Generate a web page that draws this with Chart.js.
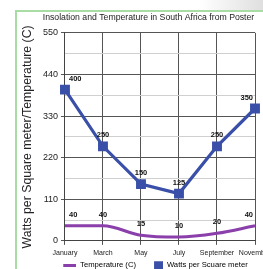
<!DOCTYPE html>
<html>
<head>
<meta charset="utf-8">
<script src="https://cdn.jsdelivr.net/npm/chart.js@4.4.1/dist/chart.umd.min.js"></script>
<style>
  html, body { margin: 0; padding: 0; background: #fff; }
  body { width: 263px; height: 269px; overflow: hidden; position: relative; }
  .frame { position: absolute; left: 15px; top: 10px; width: 400px; height: 400px;
           border-left: 2px solid #a9dba4; border-top: 2px solid #a9dba4; }
  .shade { position: absolute; left: 200px; top: 0; width: 63px; height: 10px;
           background: linear-gradient(to right, rgba(255,255,255,0), rgba(215,215,215,0.8)); }
  .wrap { position: absolute; left: 17px; top: 8px; width: 263px; height: 271px; }
</style>
</head>
<body>
<div class="shade"></div>
<div class="frame"></div>
<div class="wrap"><canvas id="insolation"></canvas></div>
<script>
// data
var months = ["January", "March", "May", "July", "September", "November"];
var tempValues = [40, 40, 15, 10, 20, 40];
var wattValues = [400, 250, 150, 125, 250, 350];
var tempColor = "#8b3fab";
var wattColor = "#3a50a8";

// legend icons, drawn on the right side of a 27px wide box
function legendIcon(kind, color) {
  var c = document.createElement("canvas");
  var g;
  if (kind == "line") {
    c.width = 27; c.height = 3;
    g = c.getContext("2d");
    g.fillStyle = color;
    g.fillRect(14, 0, 13, 3);
  } else {
    c.width = 27; c.height = 9;
    g = c.getContext("2d");
    g.fillStyle = color;
    g.fillRect(18, 0, 9, 9);
  }
  return c;
}
var tempIcon = legendIcon("line", tempColor);
var wattIcon = legendIcon("box", wattColor);

// value labels above each point
var valueLabels = {
  id: "valueLabels",
  afterDatasetsDraw: function(chart) {
    var ctx = chart.ctx;
    var area = chart.chartArea;
    ctx.save();
    ctx.font = "bold 7.5px 'Liberation Sans', Arial, sans-serif";
    ctx.fillStyle = "#111";
    ctx.textBaseline = "middle";
    ctx.textAlign = "left";
    chart.data.datasets.forEach(function(ds, i) {
      var meta = chart.getDatasetMeta(i);
      meta.data.forEach(function(pt, j) {
        var txt = String(ds.data[j]);
        var w = ctx.measureText(txt).width;
        var x = pt.x - w / 2;
        if (x < area.left + 4) x = area.left + 4;
        if (x + w > area.right - 2) x = area.right - 2 - w;
        ctx.fillText(txt, x, pt.y - 11);
      });
    });
    ctx.restore();
  }
};

new Chart("insolation", {
  type: "line",
  data: {
    labels: months,
    datasets: [{
      label: "Temperature (C)",
      data: tempValues,
      borderColor: tempColor,
      backgroundColor: tempColor,
      borderWidth: 3,
      pointRadius: 0,
      pointHoverRadius: 0,
      cubicInterpolationMode: "monotone"
    }, {
      label: "Watts per Scuare meter",
      data: wattValues,
      borderColor: wattColor,
      backgroundColor: wattColor,
      borderWidth: 3.2,
      pointStyle: "rect",
      pointRadius: 7,
      pointBorderWidth: 0,
      tension: 0
    }]
  },
  options: {
    responsive: true,
    maintainAspectRatio: false,
    animation: false,
    devicePixelRatio: 1,
    layout: { padding: 0 },
    plugins: {
      tooltip: { enabled: false },
      title: {
        display: true,
        text: "Insolation and Temperature in South Africa from Poster",
        color: "#222",
        font: { family: "'Liberation Sans', Arial, sans-serif", size: 8.7, weight: "normal" },
        padding: { top: 4.8, bottom: 9.6 }
      },
      legend: {
        position: "bottom",
        labels: {
          usePointStyle: true,
          pointStyleWidth: 27,
          padding: 0,
          color: "#222",
          font: { family: "'Liberation Sans', Arial, sans-serif", size: 7.7 },
          generateLabels: function(chart) {
            return chart.data.datasets.map(function(ds, i) {
              return {
                text: ds.label,
                pointStyle: i == 0 ? tempIcon : wattIcon,
                fillStyle: ds.borderColor,
                strokeStyle: ds.borderColor,
                lineWidth: 0,
                datasetIndex: i
              };
            });
          }
        }
      }
    },
    scales: {
      x: {
        offset: false,
        grid: { color: "#555", lineWidth: 1, tickLength: 4, tickColor: "#555" },
        border: { color: "#444", width: 1 },
        ticks: {
          color: "#222",
          padding: 4,
          maxRotation: 0,
          autoSkip: false,
          font: { family: "'Liberation Sans', Arial, sans-serif", size: 7 }
        },
        afterFit: function(scale) {
          scale.paddingRight = 25;
        }
      },
      y: {
        min: 0,
        max: 550,
        grid: {
          tickLength: 4,
          color: function(c) { return c.tick && c.tick.value % 110 === 0 ? "#555" : "#d0d0d0"; },
          tickColor: function(c) { return c.tick && c.tick.value % 110 === 0 ? "#555" : "rgba(0,0,0,0)"; }
        },
        border: { color: "#444", width: 1 },
        ticks: {
          stepSize: 55,
          padding: 3,
          color: "#222",
          font: { family: "'Liberation Sans', Arial, sans-serif", size: 9 },
          callback: function(v) { return v % 110 === 0 ? v : ""; }
        },
        title: {
          display: true,
          text: "Watts per Square meter/Temperature (C)",
          color: "#222",
          font: { family: "'Liberation Sans', Arial, sans-serif", size: 12.3 },
          padding: { top: 3.5, bottom: 4.7 }
        }
      }
    }
  },
  plugins: [valueLabels]
});
</script>
</body>
</html>
